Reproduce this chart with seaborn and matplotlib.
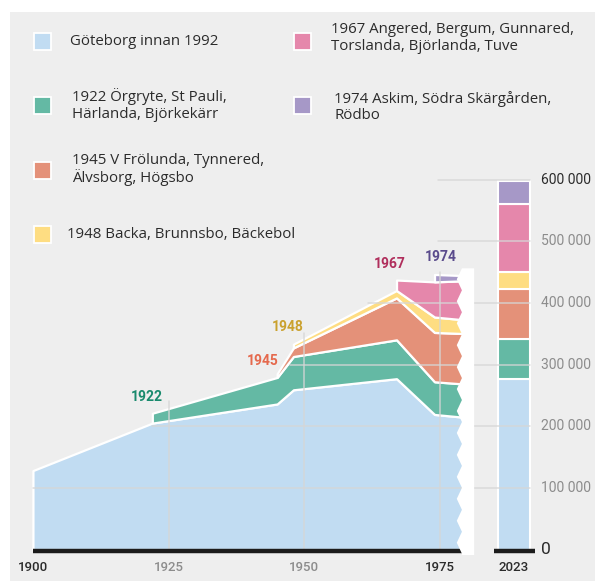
import numpy as np
import matplotlib
matplotlib.use('Agg')
import matplotlib.pyplot as plt
from matplotlib.patches import Rectangle, Polygon
import seaborn as sns

sns.set_style('white')
plt.rcParams['font.family'] = ['Roboto', 'DejaVu Sans']

# =========================
#  DATA (thousands of inhabitants)
# =========================

nan = np.nan
years = [1900, 1922, 1945, 1948, 1967, 1974, 1980]
goteborg = [128, 205, 236, 259, 277, 219, 214]
orgryte = [nan, 16, 43, 54, 63, 53, 54]
frolunda = [nan, nan, 6, 14, 68, 80, 82]
backa = [nan, nan, nan, 6, 12, 25, 22]
angered = [nan, nan, nan, nan, 17, 57, 64]
askim = [nan, nan, nan, nan, nan, 12, 8]

pop_2023 = [276, 65, 81, 28, 111, 36]

legend_labels = [
    'Göteborg innan 1992',
    '1922 Örgryte, St Pauli,\nHärlanda, Björkekärr',
    '1945 V Frölunda, Tynnered,\nÄlvsborg, Högsbo',
    '1948 Backa, Brunnsbo, Bäckebol',
    '1967 Angered, Bergum, Gunnared,\nTorslanda, Björlanda, Tuve',
    '1974 Askim, Södra Skärgården,\nRödbo',
]
start_years = ['1922', '1945', '1948', '1967', '1974']
start_pos = [(1921.0, 247), (1942.4, 306), (1947.0, 361), (1965.8, 463), (1975.2, 474)]

x_ticks = [1900, 1925, 1950, 1975]
y_ticks = [0, 100, 200, 300, 400, 500, 600]

colors = sns.color_palette(['#c1dcf2', '#64b9a4', '#e49179', '#fedd82', '#e587ab', '#a698c7'])
label_colors = ['#198a6d', '#e5694d', '#caa12e', '#b02e5c', '#5a4b8c']

W, H = 595, 581
BAR_X, BAR_W = 1988.6, 5.9

fig = plt.figure(figsize=(W / 100, H / 100), dpi=100)
fig.patch.set_facecolor('white')
fig.add_artist(Rectangle((10 / W, 0), 1 - 10 / W, 1 - 12 / H, transform=fig.transFigure,
                         facecolor='#eeeeee', edgecolor='none', zorder=0))

# axes placed so 1900 -> px 33, 1975 -> px 440, 0 -> px 549.5, 600k -> px 179.5
ax = fig.add_axes([22.1 / W, 1 - 558.75 / H, (536 - 22.1) / W, (558.75 - 164.1) / H])
ax.set_xlim(1898, 1992.7)
ax.set_ylim(-15, 625)
ax.axis('off')
ax.patch.set_alpha(0)

# =========================
#  STACKED AREAS
# =========================

layers = np.array([goteborg, orgryte, frolunda, backa, angered, askim], dtype=float)
yrs = np.array(years, dtype=float)
bottom = np.zeros(len(yrs))
for vals, col in zip(layers, colors):
    m = ~np.isnan(vals)
    ax.fill_between(yrs[m], bottom[m], bottom[m] + vals[m], facecolor=col,
                    edgecolor='white', linewidth=1.6, zorder=2)
    bottom = bottom + np.nan_to_num(vals)

# 2023 bar
b = 0
for v, col in zip(pop_2023, colors):
    ax.bar(BAR_X, v, bottom=b, width=BAR_W, color=col, edgecolor='white', linewidth=1.5, zorder=2)
    b += v

# =========================
#  GRID
# =========================

grid_kw = dict(color='#d6d6d6', alpha=0.85, linewidth=1.1, zorder=3)
for x, top in zip([1925, 1950, 1975], [241, 351, 450]):
    ax.plot([x, x], [0, top], **grid_kw)
for y, x0 in zip(y_ticks[1:], [1900, 1922, 1947.4, 1961.7, 1974.6, 1974.6]):
    ax.plot([x0, BAR_X + BAR_W / 2], [y, y], **grid_kw)

# baselines
ax.plot([1900, 1980], [-2.5, -2.5], color='#1b1b1b', linewidth=3.2, solid_capstyle='butt', zorder=4)
ax.plot([1985.0, 1992.5], [-2.5, -2.5], color='#1b1b1b', linewidth=3.2, solid_capstyle='butt',
        zorder=4, clip_on=False)

# torn edge
zig_y = np.arange(456, -10, -17.8)
zig_x = np.where(np.arange(len(zig_y)) % 2 == 0, 1979.05, 1978.1)
pts = list(zip(zig_x, zig_y)) + [(1979.05, -9), (1981.3, -9), (1981.3, 456)]
ax.add_patch(Polygon(pts, closed=True, facecolor='white', edgecolor='none', zorder=5))

# =========================
#  LABELS
# =========================

for txt, (x, y), col in zip(start_years, start_pos, label_colors):
    ax.text(x, y, txt, color=col, fontsize=10, fontweight='bold', ha='center', va='center', zorder=6)

dark, grey = '#2b2b2b', '#8c8c8c'
for x, col in zip(x_ticks, [dark, grey, grey, dark]):
    ax.text(x, -30, str(x), color=col, fontsize=9.5, fontweight='medium', ha='center', va='center',
            clip_on=False)
ax.text(BAR_X, -30, '2023', color=dark, fontsize=9.5, fontweight='medium', ha='center', va='center',
        clip_on=False)

for y in y_ticks:
    lab = '0' if y == 0 else f'{y} 000'
    col = dark if y in (0, 600) else grey
    ax.text(1993.6, y, lab, color=col, fontsize=12.5 if y == 0 else 10, ha='left', va='center',
            clip_on=False)

# =========================
#  LEGEND
# =========================

sq_pos = [(42.5, 41.5), (42.5, 106), (42.5, 170), (42.5, 234.5), (302, 41.5), (302, 106)]
txt_pos = [(70, 41.7), (72, 105), (72, 169.5), (67, 235), (331, 38), (334, 107)]
for (sx, sy), (tx, ty), lab, col in zip(sq_pos, txt_pos, legend_labels, colors):
    fig.add_artist(Rectangle(((sx - 8.5) / W, 1 - (sy + 8.5) / H), 17 / W, 17 / H,
                             transform=fig.transFigure, facecolor=col, edgecolor='white',
                             linewidth=1.3, zorder=3))
    fig.text(tx / W, 1 - ty / H, lab, family=['Open Sans', 'DejaVu Sans'], fontsize=10.8,
             color='#2b2b2b', ha='left', va='center', linespacing=1.15)

fig.savefig('out.png', dpi=100)
